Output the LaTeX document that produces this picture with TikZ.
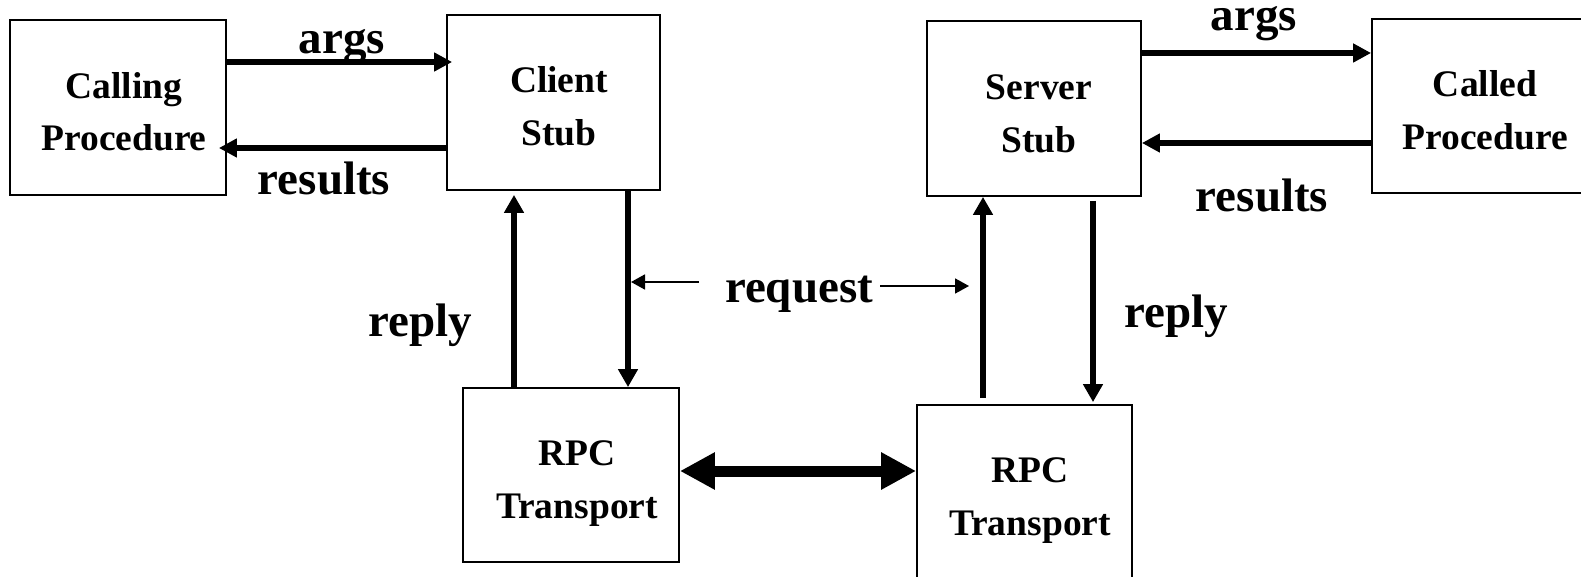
\documentclass[tikz,border=0pt]{standalone}
\usepackage{fontspec}
\setmainfont{Liberation Serif}
\usetikzlibrary{arrows.meta}
\begin{document}
\begin{tikzpicture}[x=1pt,y=-1pt,
  box/.style={draw, line width=1.8pt, inner sep=0pt},
  boxlabel/.style={font=\fontsize{37.5}{45}\selectfont\bfseries, anchor=base, inner sep=0pt},
  flowlabel/.style={font=\fontsize{47}{56}\selectfont\bfseries, anchor=base, inner sep=0pt},
  callarrow/.style={line width=6pt, -{Triangle[length=18pt,width=18pt]}},
  stackarrow/.style={line width=5.5pt, -{Triangle[length=18pt,width=19pt]}},
  thinarrow/.style={line width=1.8pt, -{Triangle[length=14pt,width=15pt]}},
  netarrow/.style={line width=11pt, {Triangle[length=35pt,width=35pt]}-{Triangle[length=35pt,width=35pt]}}
]
\useasboundingbox (0,0) rectangle (1581,577);

% boxes
\node[box, minimum width=216pt, minimum height=175pt] (calling) at (118,107.5) {};
\node[box, minimum width=213pt, minimum height=175pt] (client) at (553.5,102.5) {};
\node[box, minimum width=214pt, minimum height=175pt] (server) at (1034,108.5) {};
\node[box, minimum width=218pt, minimum height=174pt] (called) at (1481,106) {};
\node[box, minimum width=216pt, minimum height=174pt] (rpcL) at (571,475) {};
\node[box, minimum width=215pt, minimum height=175pt] (rpcR) at (1024.5,492.5) {};

% box texts
\node[boxlabel] (calling1) at (124,99) {Calling};
\node[boxlabel] (calling2) at (124,151) {Procedure};
\node[boxlabel] (client1) at (559,93) {Client};
\node[boxlabel] (client2) at (559,146) {Stub};
\node[boxlabel] (server1) at (1039,100) {Server};
\node[boxlabel] (server2) at (1039,153) {Stub};
\node[boxlabel] (called1) at (1485,97) {Called};
\node[boxlabel] (called2) at (1485,150) {Procedure};
\node[boxlabel] (rpcL1) at (577,465) {RPC};
\node[boxlabel] (rpcL2) at (577,518) {Transport};
\node[boxlabel] (rpcR1) at (1030,482) {RPC};
\node[boxlabel] (rpcR2) at (1030,535) {Transport};

% flow labels
\node[flowlabel] (argsL) at (342,53.5) {args};
\node[flowlabel] (resultsL) at (324,195) {results};
\node[flowlabel] (argsR) at (1254,31) {args};
\node[flowlabel] (resultsR) at (1262,212) {results};
\node[flowlabel] (replyL) at (420,336) {reply};
\node[flowlabel] (replyR) at (1176,327) {reply};
\node[flowlabel] (request) at (799,302) {request};

% helper rows and columns
\coordinate (yargsL) at (0,62);
\coordinate (yresL) at (0,148);
\coordinate (yargsR) at (0,53);
\coordinate (yresR) at (0,143);
\coordinate (ynet) at (0,471);
\coordinate (xrepL) at (514,0);
\coordinate (xreqL) at (628,0);
\coordinate (xrepR) at (983,0);
\coordinate (xreqR) at (1093,0);
\coordinate (reqLfrom) at (699,282);
\coordinate (reqLto) at (631,282);
\coordinate (reqRfrom) at (880,286);
\coordinate (reqRto) at (969,286);

% procedure calls
\draw[callarrow, shorten >=-6pt] (calling.east |- yargsL) -- (client.west |- yargsL);
\draw[callarrow, shorten >=-8pt] (client.west |- yresL) -- (calling.east |- yresL);
\draw[callarrow] (server.east |- yargsR) -- (called.west |- yargsR);
\draw[callarrow] (called.west |- yresR) -- (server.east |- yresR);

% stub <-> transport
\draw[stackarrow, shorten >=4pt] (rpcL.north -| xrepL) -- (client.south -| xrepL);
\draw[stackarrow] (client.south -| xreqL) -- (rpcL.north -| xreqL);
\draw[stackarrow, shorten <=6pt] (rpcR.north -| xrepR) -- (server.south -| xrepR);
\draw[stackarrow, shorten <=4pt, shorten >=2pt] (server.south -| xreqR) -- (rpcR.north -| xreqR);

% request pointers
\draw[thinarrow] (reqLfrom) -- (reqLto);
\draw[thinarrow] (reqRfrom) -- (reqRto);

% network link
\draw[netarrow] (rpcL.east |- ynet) -- (rpcR.west |- ynet);
\end{tikzpicture}
\end{document}
